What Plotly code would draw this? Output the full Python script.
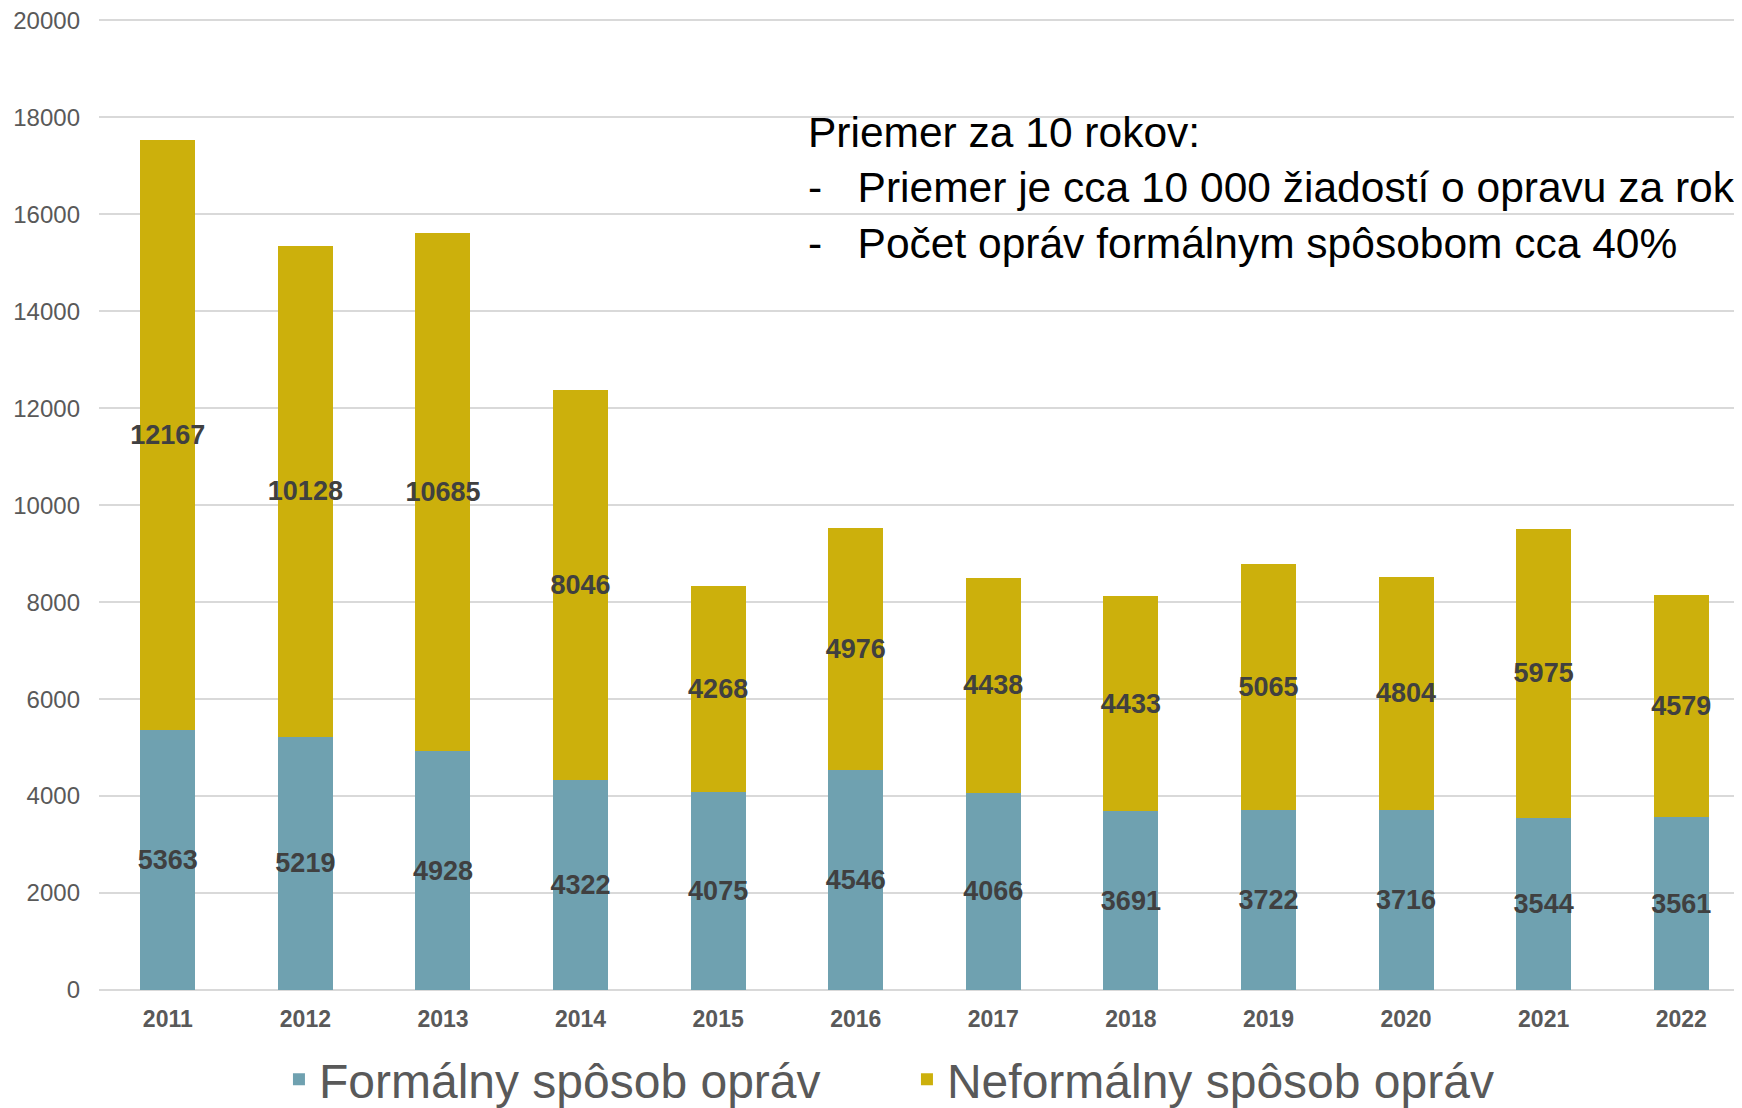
import plotly.graph_objects as go

years = ["2011", "2012", "2013", "2014", "2015", "2016", "2017", "2018", "2019", "2020", "2021", "2022"]
formalny = [5363, 5219, 4928, 4322, 4075, 4546, 4066, 3691, 3722, 3716, 3544, 3561]
neformalny = [12167, 10128, 10685, 8046, 4268, 4976, 4438, 4433, 5065, 4804, 5975, 4579]
series_names = ["Formálny spôsob opráv", "Neformálny spôsob opráv"]
y_ticks = [0, 2000, 4000, 6000, 8000, 10000, 12000, 14000, 16000, 18000, 20000]
y_tick_labels = [str(v) for v in y_ticks]

FONT = "Arial, 'Liberation Sans', sans-serif"
BLUE = "#6FA1B0"
GOLD = "#CCB00C"

fig = go.Figure()
for name, vals, col in [(series_names[0], formalny, BLUE), (series_names[1], neformalny, GOLD)]:
    fig.add_trace(go.Bar(
        x=years, y=vals, name=name,
        marker=dict(color=col, line=dict(width=0)),
        text=[f"<b>{v}</b>" for v in vals],
        textposition="inside", insidetextanchor="middle", textangle=0,
        constraintext="none", cliponaxis=False,
        textfont=dict(family=FONT, size=27, color="#404040"),
        insidetextfont=dict(family=FONT, size=27, color="#404040"),
    ))

fig.add_annotation(
    xref="paper", yref="paper", x=0.428, y=0.907, xanchor="left", yanchor="top",
    align="left", showarrow=False,
    text=("Priemer za 10 rokov:<br>"
          "-\u00a0\u00a0\u00a0Priemer je cca 10 000 žiadostí o opravu za rok<br>"
          "-\u00a0\u00a0\u00a0Počet opráv formálnym spôsobom cca 40%"),
    font=dict(family=FONT, size=42.5, color="#000000"),
)

fig.update_layout(
    width=1742, height=1108,
    barmode="stack", bargap=0.6,
    plot_bgcolor="white", paper_bgcolor="white",
    margin=dict(l=91, r=0, t=9, b=126, autoexpand=False),
    font=dict(family=FONT, color="#595959"),
    showlegend=True,
    legend=dict(
        orientation="h", x=0.109, y=-0.092, xanchor="left", yanchor="middle",
        font=dict(family=FONT, size=48, color="#595959"),
        traceorder="normal", entrywidth=583, entrywidthmode="pixels",
        bgcolor="rgba(0,0,0,0)",
    ),
    xaxis=dict(
        type="category", showgrid=False, showline=False, ticks="",
        tickfont=dict(family=FONT, size=23, color="#595959", weight="bold"),
        ticklabelstandoff=13,
    ),
    yaxis=dict(
        range=[0, 20070], tickvals=y_ticks, ticktext=y_tick_labels,
        showgrid=True, gridcolor="#D9D9D9", gridwidth=2,
        zeroline=True, zerolinecolor="#D9D9D9", zerolinewidth=2, showline=False, ticks="",
        tickfont=dict(family=FONT, size=24, color="#595959"),
        ticklabelstandoff=18, ticklabeloverflow="allow",
    ),
)

fig.write_html("out.html")
